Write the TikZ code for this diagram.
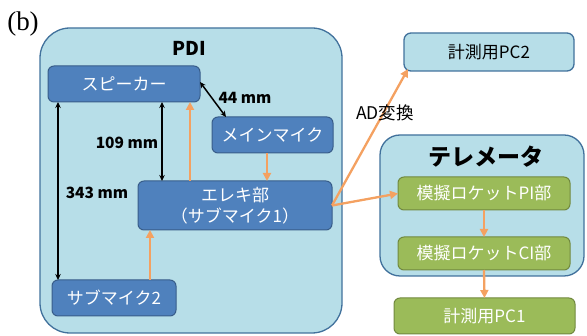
\documentclass[tikz,border=0pt]{standalone}
\usepackage{fontspec}
\setmainfont{Noto Sans CJK JP}
\newfontfamily\serifb{Liberation Serif}
\usetikzlibrary{arrows.meta}
\definecolor{lightbg}{HTML}{B7DEE8}
\definecolor{lightbd}{HTML}{41719C}
\definecolor{bluefill}{HTML}{4F81BD}
\definecolor{bluebd}{HTML}{385D8A}
\definecolor{greenfill}{HTML}{9BBB59}
\definecolor{greenbd}{HTML}{71893F}
\definecolor{orangearr}{HTML}{F4A161}
\tikzset{
  container/.style={draw=lightbd, fill=lightbg, line width=1.3pt, inner sep=0pt, outer sep=0pt},
  bluebox/.style={draw=bluebd, fill=bluefill, line width=1pt, rounded corners=6pt, text=white, font=\fontsize{17}{20}\selectfont, inner sep=0pt, outer sep=0pt, align=center},
  lightbox/.style={draw=lightbd, fill=lightbg, line width=1.3pt, rounded corners=7pt, text=black, font=\fontsize{17}{20}\selectfont, inner sep=0pt, outer sep=0pt},
  greenbox/.style={draw=greenbd, fill=greenfill, line width=1pt, rounded corners=6pt, text=white, font=\fontsize{17}{20}\selectfont, inner sep=0pt, outer sep=0pt},
  dimarr/.style={{Stealth[length=6pt,width=5.5pt]}-{Stealth[length=6pt,width=5.5pt]}, line width=1.5pt, black},
  oarr/.style={-{Triangle[length=8pt,width=8pt]}, line width=2.3pt, orangearr},
  dimlabel/.style={font=\bfseries\fontsize{15.5}{18}\selectfont, inner sep=0pt},
}
\begin{document}
\begin{tikzpicture}[x=1pt,y=-1pt]
\useasboundingbox (0,0) rectangle (587,336);
\node[font=\serifb\fontsize{27}{30}\selectfont, inner sep=0pt] (lab) at (23,24) {(b)};
% containers
\node[container, rounded corners=30pt, minimum width=302pt, minimum height=305pt] (pdi) at (191,180.5) {};
\node[font=\bfseries\fontsize{19}{22}\selectfont, inner sep=0pt] (pditxt) at (189,48) {PDI};
\node[container, rounded corners=20pt, minimum width=204pt, minimum height=141pt] (tel) at (482,205.5) {};
\node[font=\bfseries\fontsize{23}{26}\selectfont, inner sep=0pt] (teltxt) at (486,157) {テレメータ};
% blue nodes
\node[bluebox, minimum width=152pt, minimum height=36pt] (spk) at (124,84) {スピーカー};
\node[bluebox, minimum width=121pt, minimum height=36pt] (mm) at (272.5,135) {メインマイク};
\node[bluebox, minimum width=194pt, minimum height=49pt, font=\fontsize{17}{21}\selectfont] (elec) at (235,205.5) {エレキ部\\（サブマイク1）};
\node[bluebox, minimum width=124pt, minimum height=36pt] (sub2) at (114,298) {サブマイク2};
% right nodes
\node[lightbox, minimum width=170pt, minimum height=38pt] (pc2) at (489,52) {計測用PC2};
\node[greenbox, minimum width=172pt, minimum height=33pt] (pi) at (484,193.5) {模擬ロケットPI部};
\node[greenbox, minimum width=172pt, minimum height=33pt] (ci) at (484,253.5) {模擬ロケットCI部};
\node[greenbox, minimum width=181pt, minimum height=36pt] (pc1) at (484.5,316) {計測用PC1};
% dimension arrows
\draw[dimarr] ([xshift=10pt]spk.south west) -- ([xshift=6pt]sub2.north west);
\draw[dimarr] ([xshift=38pt]spk.south) -- ([xshift=24pt]elec.north west);
\draw[dimarr] ([yshift=2pt]spk.east) -- ([xshift=14pt]mm.north west);
\node[dimlabel] (l44) at (245,98) {44 mm};
\node[dimlabel] (l109) at (127,143) {109 mm};
\node[dimlabel] (l343) at (97,193) {343 mm};
% orange arrows
\draw[oarr] ([xshift=52pt]elec.north west) -- ([xshift=66pt]spk.south);
\draw[oarr] ([xshift=-5.5pt]mm.south) -- ([xshift=32pt]elec.north);
\draw[oarr] ([xshift=36pt]sub2.north) -- ([xshift=12pt]elec.south west);
\draw[oarr] (elec.east) -- ([xshift=4pt,yshift=2pt]pc2.south west);
\draw[oarr] (elec.east) -- (pi.west);
\draw[oarr] (pi.south) -- (ci.north);
\draw[oarr] (ci.south) -- (pc1.north);
\node[font=\fontsize{17.5}{20}\selectfont, inner sep=0pt] (ad) at (385,113) {AD変換};
\end{tikzpicture}
\end{document}
